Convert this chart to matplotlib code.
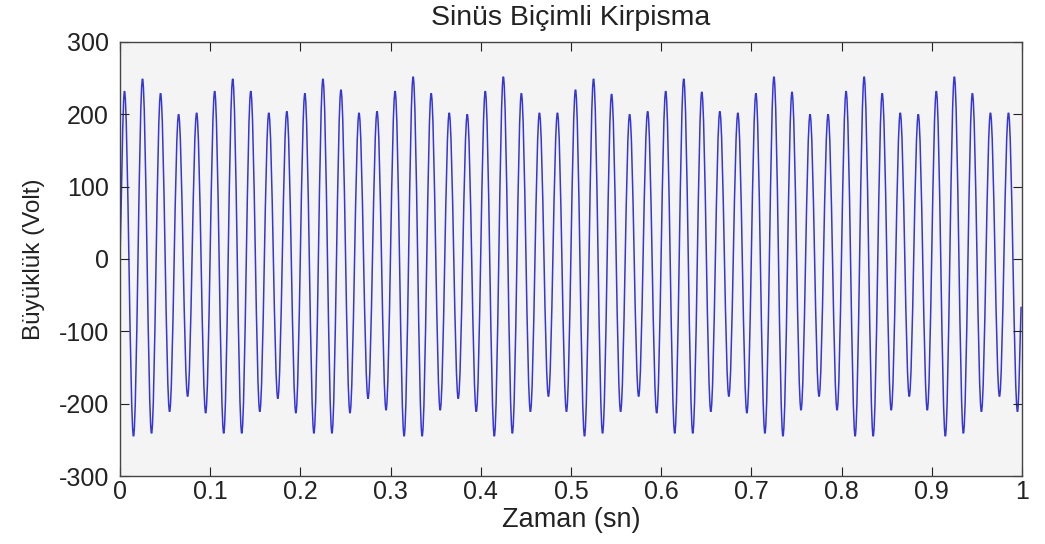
import matplotlib
matplotlib.use("Agg")
import matplotlib.pyplot as plt
from matplotlib.path import Path
from matplotlib.patches import PathPatch
from matplotlib.ticker import FuncFormatter

plt.rcParams["font.family"] = ["Liberation Sans", "DejaVu Sans"]
plt.rcParams["axes.unicode_minus"] = False

# 50 Hz voltage with sinusoidal flicker: one peak and one trough per cycle
PERIOD = 0.02
FIRST_PEAK = 0.005
START_VALUE = 0.0
END_TIME = 0.999
END_VALUE = -66.0

PEAKS = [
    232, 249, 229, 200, 202, 232, 249, 232, 202, 204,
    229, 249, 234, 202, 204, 232, 252, 229, 202, 200,
    232, 252, 229, 202, 202, 234, 249, 228, 200, 204,
    232, 249, 231, 204, 202, 229, 252, 231, 200, 200,
    232, 252, 229, 202, 200, 232, 252, 229, 202, 202,
]
TROUGHS = [
    -245, -241, -211, -190, -213, -241, -241, -211, -193, -213,
    -241, -241, -213, -193, -209, -245, -245, -209, -193, -211,
    -245, -241, -211, -190, -211, -245, -241, -211, -190, -213,
    -241, -241, -211, -190, -213, -241, -245, -209, -190, -209,
    -245, -245, -209, -190, -209, -245, -241, -211, -190, -211,
]

X_TICKS = [0, 0.1, 0.2, 0.3, 0.4, 0.5, 0.6, 0.7, 0.8, 0.9, 1.0]
Y_TICKS = [-300, -200, -100, 0, 100, 200, 300]


def waveform_path(times, values, is_extremum):
    """Smooth path through the knots; horizontal tangents at the extrema."""
    k = 0.3634  # 1 - 2/pi, half-cosine handle length
    verts = [(times[0], values[0])]
    codes = [Path.MOVETO]
    for j in range(1, len(times)):
        x0, y0 = times[j - 1], values[j - 1]
        x1, y1 = times[j], values[j]
        h = x1 - x0
        if is_extremum[j - 1]:
            c1 = (x0 + k * h, y0)
        else:
            c1 = (x0 + h / 3, y0 + (y1 - y0) / 3)
        if is_extremum[j]:
            c2 = (x1 - k * h, y1)
        else:
            c2 = (x1 - h / 3, y1 - (y1 - y0) / 3)
        verts += [c1, c2, (x1, y1)]
        codes += [Path.CURVE4] * 3
    return Path(verts, codes)


knot_t = [0.0]
knot_v = [START_VALUE]
for i, (p, q) in enumerate(zip(PEAKS, TROUGHS)):
    knot_t += [FIRST_PEAK + i * PERIOD, FIRST_PEAK + (i + 0.5) * PERIOD]
    knot_v += [p, q]
knot_t.append(END_TIME)
knot_v.append(END_VALUE)
extremum = [False] + [True] * (2 * len(PEAKS)) + [False]

fig = plt.figure(figsize=(10.45, 5.44), dpi=100)
fig.patch.set_facecolor("white")
ax = fig.add_axes([0.1148, 0.125, 0.8632, 0.7978])
ax.set_facecolor("#f4f4f4")

ax.add_patch(PathPatch(waveform_path(knot_t, knot_v, extremum),
                       facecolor="none", edgecolor="#3535d8", linewidth=1.1))

ax.set_xlim(0, 1)
ax.set_ylim(-300, 300)
ax.set_xticks(X_TICKS)
ax.set_yticks(Y_TICKS)
ax.xaxis.set_major_formatter(FuncFormatter(lambda v, pos: f"{v:g}"))
ax.tick_params(direction="in", length=6.5, width=0.8, colors="#222222",
               top=True, right=True, labelsize=18)
ax.tick_params(axis="x", pad=3)
ax.tick_params(axis="y", pad=8)
for spine in ax.spines.values():
    spine.set_color("#444444")
    spine.set_linewidth(1.0)

ax.set_title("Sinüs Biçimli Kirpisma", fontsize=20.5, color="#222222", pad=12)
ax.set_xlabel("Zaman (sn)", fontsize=19.5, color="#222222", labelpad=2)
ax.set_ylabel("Büyüklük (Volt)", fontsize=17.5, color="#222222", labelpad=10)

fig.savefig("out.png", dpi=100, facecolor=fig.get_facecolor())
